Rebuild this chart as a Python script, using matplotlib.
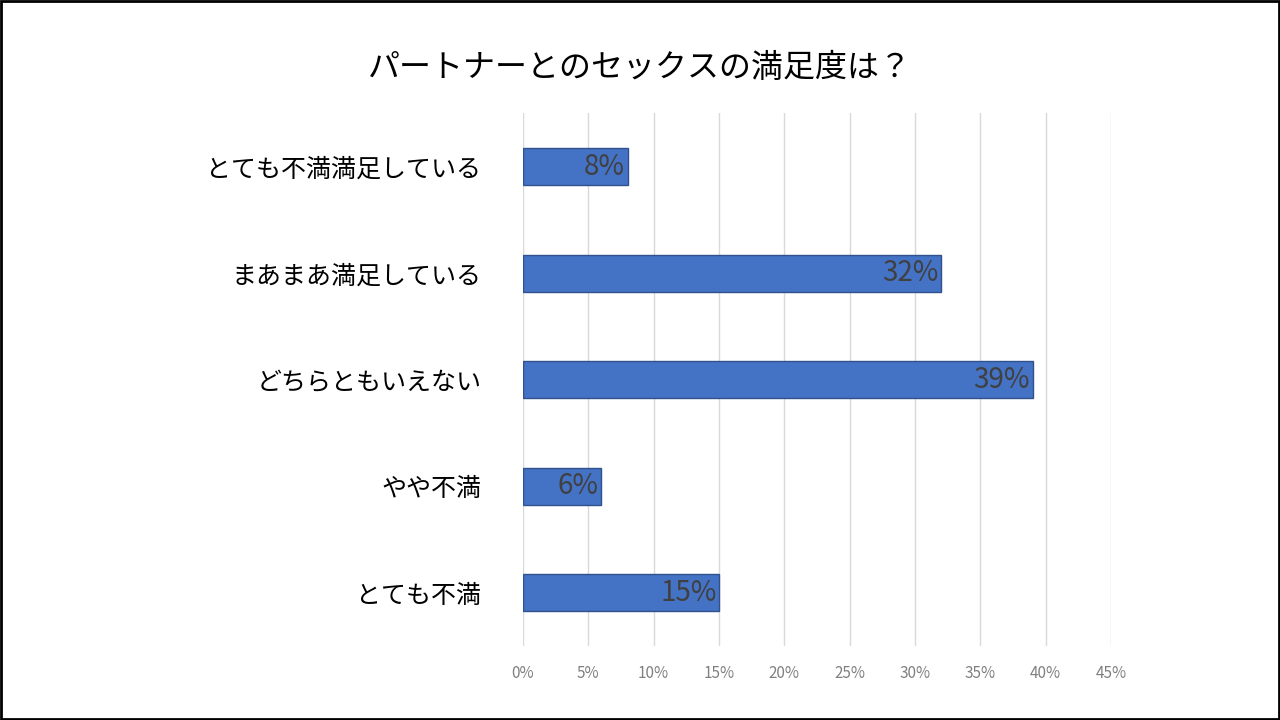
import matplotlib
matplotlib.use("Agg")
import matplotlib.pyplot as plt

plt.rcParams["font.family"] = "Noto Sans CJK JP"

categories = ["とても不満満足している", "まあまあ満足している", "どちらともいえない", "やや不満", "とても不満"]
values = [8, 32, 39, 6, 15]
ticks = [0, 5, 10, 15, 20, 25, 30, 35, 40, 45]
tick_labels = [f"{t}%" for t in ticks]

fig = plt.figure(figsize=(12.8, 7.2), dpi=100)
fig.patches.append(plt.Rectangle((0.001, 0.001), 0.998, 0.998, transform=fig.transFigure,
                                 fill=False, edgecolor="black", linewidth=2))
ax = fig.add_axes([0.4086, 0.1028, 0.4594, 0.7396])
y = list(range(len(categories)))
ax.barh(y, values, height=0.35, color="#4472C4", edgecolor="#2F528F", linewidth=1, zorder=3)
for yi, v in zip(y, values):
    ax.text(v - 0.2, yi, f"{v}%", ha="right", va="center", fontsize=20, color="#404040", zorder=4)
ax.set_ylim(len(categories) - 0.5, -0.5)
ax.set_xlim(0, 45)
ax.set_xticks(ticks)
ax.set_xticklabels(tick_labels, fontsize=11, color="#808080")
ax.set_yticks(y)
ax.set_yticklabels(categories, fontsize=18, color="#000000")
ax.tick_params(axis="y", length=0, pad=30)
ax.tick_params(axis="x", length=0, pad=14)
ax.grid(axis="x", color="#D9D9D9", linewidth=1, zorder=0)
for s in ax.spines.values():
    s.set_visible(False)
fig.text(0.5, 0.905, "パートナーとのセックスの満足度は？", ha="center", va="center", fontsize=23, color="#000000")
fig.savefig("out.png", dpi=100)
